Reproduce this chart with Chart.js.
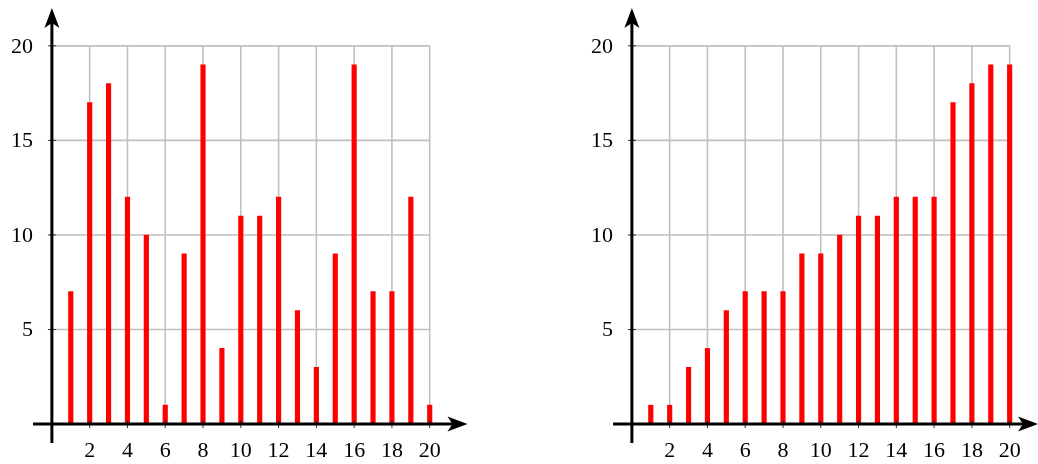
<!DOCTYPE html>
<html>
<head>
<meta charset="utf-8">
<script src="https://cdn.jsdelivr.net/npm/chart.js@4/dist/chart.umd.min.js"></script>
<style>
    html, body { margin: 0; padding: 0; background: #fff; overflow: hidden; }
    .box { position: absolute; top: 0; height: 464px; }
</style>
</head>
<body>
<div class="box" style="left:0; width:519px;"><canvas id="leftChart"></canvas></div>
<div class="box" style="left:580px; width:458px;"><canvas id="rightChart"></canvas></div>
<script>
// データ
const positions = [1, 2, 3, 4, 5, 6, 7, 8, 9, 10, 11, 12, 13, 14, 15, 16, 17, 18, 19, 20];
const leftValues = [7, 17, 18, 12, 10, 1, 9, 19, 4, 11, 11, 12, 6, 3, 9, 19, 7, 7, 12, 1];
const rightValues = [1, 1, 3, 4, 6, 7, 7, 7, 9, 9, 10, 11, 11, 12, 12, 12, 17, 18, 19, 19];
const xTicks = [2, 4, 6, 8, 10, 12, 14, 16, 18, 20];
const yTicks = [5, 10, 15, 20];

const labelFont = '22px "Liberation Serif", "DejaVu Serif", serif';

// 矢印
function arrowHead(ctx, x, y, dir) {
    ctx.save();
    ctx.translate(x, y);
    ctx.rotate(dir);
    ctx.beginPath();
    ctx.moveTo(0, 0);
    ctx.lineTo(-20, -7.5);
    ctx.lineTo(-15, 0);
    ctx.lineTo(-20, 7.5);
    ctx.closePath();
    ctx.fillStyle = '#000';
    ctx.fill();
    ctx.restore();
}

// グリッドと軸を描く
const axesPlugin = {
    id: 'axesPlugin',
    beforeDatasetsDraw(chart) {
        const ctx = chart.ctx;
        const xs = chart.scales.x, ys = chart.scales.y;
        const x0 = xs.getPixelForValue(0), x20 = xs.getPixelForValue(20);
        const y0 = ys.getPixelForValue(0), y20 = ys.getPixelForValue(20);
        ctx.save();
        ctx.strokeStyle = '#c0c0c0';
        ctx.lineWidth = 1.6;
        ctx.beginPath();
        xTicks.forEach(v => {
            const px = xs.getPixelForValue(v);
            ctx.moveTo(px, y0);
            ctx.lineTo(px, y20);
        });
        yTicks.forEach(v => {
            const py = ys.getPixelForValue(v);
            ctx.moveTo(x0, py);
            ctx.lineTo(x20, py);
        });
        ctx.stroke();
        ctx.restore();
    },
    afterDatasetsDraw(chart) {
        const ctx = chart.ctx;
        const area = chart.chartArea;
        const xs = chart.scales.x, ys = chart.scales.y;
        const x0 = xs.getPixelForValue(0);
        const y0 = ys.getPixelForValue(0);
        ctx.save();
        // 目盛り
        ctx.strokeStyle = '#333';
        ctx.lineWidth = 1;
        ctx.beginPath();
        xTicks.forEach(v => {
            const px = xs.getPixelForValue(v);
            ctx.moveTo(px, y0 - 4);
            ctx.lineTo(px, y0 + 4);
        });
        yTicks.forEach(v => {
            const py = ys.getPixelForValue(v);
            ctx.moveTo(x0 - 4, py);
            ctx.lineTo(x0 + 4, py);
        });
        ctx.stroke();
        // 軸線
        ctx.strokeStyle = '#000';
        ctx.lineWidth = 3;
        ctx.beginPath();
        ctx.moveTo(area.left, y0);
        ctx.lineTo(area.right - 10, y0);
        ctx.moveTo(x0, area.bottom);
        ctx.lineTo(x0, area.top + 10);
        ctx.stroke();
        arrowHead(ctx, area.right, y0, 0);
        arrowHead(ctx, x0, area.top, -Math.PI / 2);
        // ラベル
        ctx.fillStyle = '#000';
        ctx.font = labelFont;
        ctx.textAlign = 'center';
        ctx.textBaseline = 'middle';
        xTicks.forEach(v => {
            ctx.fillText(String(v), xs.getPixelForValue(v), y0 + 27);
        });
        ctx.textAlign = 'right';
        yTicks.forEach(v => {
            ctx.fillText(String(v), x0 - 19, ys.getPixelForValue(v) + 1);
        });
        ctx.restore();
    }
};

function makeChart(id, values, xMax, rightPad) {
    const ctx = document.getElementById(id).getContext('2d');
    return new Chart(ctx, {
        type: 'bar',
        data: {
            datasets: [{
                data: positions.map((p, i) => ({ x: p, y: values[i] })),
                backgroundColor: '#ff0000',
                borderWidth: 0,
                barThickness: 4.5
            }]
        },
        options: {
            responsive: true,
            maintainAspectRatio: false,
            animation: false,
            layout: { padding: { left: 33, right: rightPad, top: 8, bottom: 21 } },
            scales: {
                x: { type: 'linear', min: -1, max: xMax, offset: false, display: false },
                y: { type: 'linear', min: -1, max: 22, display: false }
            },
            plugins: {
                legend: { display: false },
                tooltip: { enabled: false }
            }
        },
        plugins: [axesPlugin]
    });
}

makeChart('leftChart', leftValues, 22, 51.5);
makeChart('rightChart', rightValues, 21.5, 0);
</script>
</body>
</html>
